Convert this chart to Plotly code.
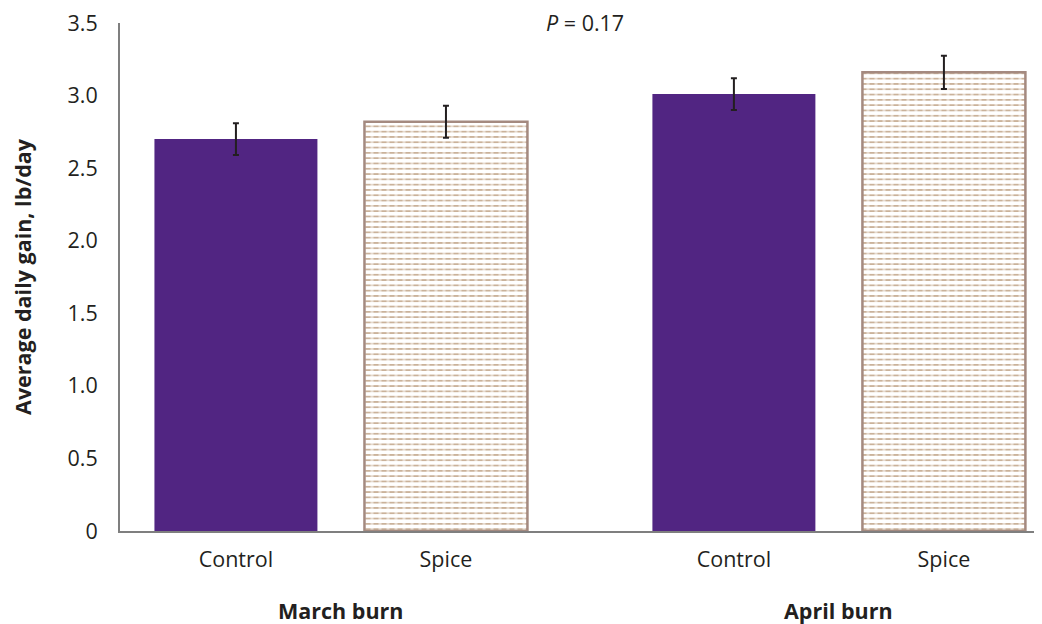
import plotly.graph_objects as go

groups = ["March burn", "April burn"]
treatments = ["Control", "Spice"]
control_vals = [2.70, 3.01]
control_err = [0.11, 0.11]
spice_vals = [2.82, 3.16]
spice_err = [0.11, 0.115]
y_ticks = [0, 0.5, 1.0, 1.5, 2.0, 2.5, 3.0, 3.5]
y_ticktext = ["0", "0.5", "1.0", "1.5", "2.0", "2.5", "3.0", "3.5"]
p_text = "<i>P</i> = 0.17"

# x positions (numeric so the gap between groups can be reproduced)
group_offset = [0.0, 2.371]
x_control = [g + 0.0 for g in group_offset]
x_spice = [g + 1.0 for g in group_offset]
bar_w = 0.776

FONT = "Open Sans"
FS = 21.5
TXT = "#231f20"
PURPLE = "#512582"
BORDER = "#a48a80"
DASH = "#8f5e2c"

fig = go.Figure()
fig.add_trace(go.Bar(
    x=x_control, y=control_vals, width=bar_w,
    marker=dict(color=PURPLE, line=dict(width=0)),
    error_y=dict(type="data", array=control_err, color=TXT, thickness=2, width=3),
    showlegend=False, hoverinfo="skip"))
# dashed horizontal pattern for Spice
fig.add_trace(go.Bar(
    x=x_spice, y=spice_vals, width=bar_w,
    marker=dict(color="white", line=dict(width=0),
                pattern=dict(shape="-", fgcolor=DASH, bgcolor="white", size=5.3, solidity=0.32)),
    showlegend=False, hoverinfo="skip"))
# white vertical breaks to turn lines into dashes
fig.add_trace(go.Bar(
    x=x_spice, y=spice_vals, width=bar_w,
    marker=dict(color="white", line=dict(width=0),
                pattern=dict(shape="|", fgcolor="white", bgcolor="rgba(255,255,255,0)",
                             size=8, solidity=0.38)),
    showlegend=False, hoverinfo="skip"))
# border + error bars
fig.add_trace(go.Bar(
    x=x_spice, y=spice_vals, width=bar_w,
    marker=dict(color="rgba(0,0,0,0)", line=dict(width=2.5, color=BORDER)),
    error_y=dict(type="data", array=spice_err, color=TXT, thickness=2, width=3),
    showlegend=False, hoverinfo="skip"))

tickvals = []
ticktext = []
for g in group_offset:
    for i, t in enumerate(treatments):
        tickvals.append(g + i)
        ticktext.append(t)

# page body has an 8px margin, so the figure is sized/offset to compensate
fig.update_layout(
    width=1034, height=616,
    margin=dict(l=112, r=0, t=15, b=93),
    paper_bgcolor="white", plot_bgcolor="white",
    barmode="overlay",
    font=dict(family=FONT, size=FS, color=TXT),
    xaxis=dict(range=[-0.552, 3.838], tickvals=tickvals, ticktext=ticktext,
               showline=True, linecolor="#7f7f7f", linewidth=2, ticks="",
               showgrid=False, zeroline=False, ticklabelstandoff=8, automargin=False,
               tickfont=dict(family=FONT, size=FS, color=TXT)),
    yaxis=dict(range=[0, 3.5], tickvals=y_ticks, ticktext=y_ticktext,
               showline=True, linecolor="#7f7f7f", linewidth=2, ticks="",
               showgrid=False, zeroline=False, ticklabelstandoff=16, automargin=False,
               ticklabeloverflow="allow",
               tickfont=dict(family=FONT, size=FS, color=TXT),
               title=dict(text="<b>Average daily gain, lb/day</b>", standoff=34,
                          font=dict(family=FONT, size=FS, color=TXT))),
)

for g, name in zip(group_offset, groups):
    fig.add_annotation(x=g + 0.5, xref="x", y=0, yref="paper", yanchor="middle", yshift=-79,
                       text=f"<b>{name}</b>", showarrow=False,
                       font=dict(family=FONT, size=FS, color=TXT))

fig.add_annotation(x=1.66, xref="x", y=3.5, yref="y", text=p_text, showarrow=False,
                   yanchor="middle", yshift=1, font=dict(family=FONT, size=FS, color=TXT))

fig.write_html("out.html")
